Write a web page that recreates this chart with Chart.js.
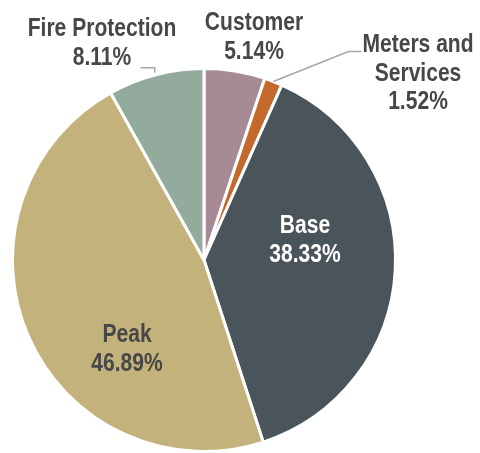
<!DOCTYPE html>
<html>
<head>
<meta charset="utf-8">
<script src="https://cdn.jsdelivr.net/npm/chart.js@4.4.1/dist/chart.umd.min.js"></script>
<style>
  html, body { margin: 0; padding: 0; background: #fff; overflow: hidden; }
  #wrap { width: 480px; height: 453px; position: relative; }
</style>
</head>
<body>
<div id="wrap"><canvas id="pie"></canvas></div>
<script>
// data
const categories = ['Customer', 'Meters and Services', 'Base', 'Peak', 'Fire Protection'];
const shares = [5.14, 1.52, 38.33, 46.89, 8.11];
const sliceColors = ['#a68b96', '#c4692c', '#4a545b', '#c3b27b', '#93ab9c'];

// label text lines per slice (name lines; the value is added below)
const labelLines = [
    ['Customer'],
    ['Meters and', 'Services'],
    ['Base'],
    ['Peak'],
    ['Fire Protection']
];

// label placement: first baseline relative to pie centre, text colour,
// leader points relative to the slice's outer edge at its mid angle
const labelSpots = [
    { dx: 50, dy: -230, color: '#474747', leader: null },
    { dx: 214, dy: -208, color: '#474747', leader: [[0, 0], [75, -30], [88, -30]] },
    { dx: 101, dy: -27, color: '#ffffff', leader: null },
    { dx: -77, dy: 82, color: '#474747', leader: null },
    { dx: -102, dy: -224, color: '#474747', leader: [[-1, -2], [-1, -7], [-15, -7]] }
];

const FONT = 'bold 26px "Liberation Sans", Arial, sans-serif';
const SQUEEZE = 0.81;
const LINE_H = 28.5;

const pieLabels = {
    id: 'pieLabels',
    afterDatasetsDraw(chart) {
        const ctx = chart.ctx;
        const arcs = chart.getDatasetMeta(0).data;
        ctx.save();
        arcs.forEach((arc, i) => {
            const spot = labelSpots[i];
            const cx = arc.x, cy = arc.y;
            if (spot.leader) {
                const mid = (arc.startAngle + arc.endAngle) / 2;
                const sx = cx + Math.cos(mid) * arc.outerRadius;
                const sy = cy + Math.sin(mid) * arc.outerRadius;
                ctx.beginPath();
                spot.leader.forEach((p, k) => {
                    if (k === 0) ctx.moveTo(sx + p[0], sy + p[1]);
                    else ctx.lineTo(sx + p[0], sy + p[1]);
                });
                ctx.strokeStyle = '#a6a6a6';
                ctx.lineWidth = 1.5;
                ctx.stroke();
            }
            const lines = labelLines[i].concat([shares[i].toFixed(2) + '%']);
            ctx.font = FONT;
            ctx.fillStyle = spot.color;
            ctx.textAlign = 'center';
            ctx.textBaseline = 'alphabetic';
            lines.forEach((t, k) => {
                ctx.save();
                ctx.translate(cx + spot.dx, cy + spot.dy + k * LINE_H);
                ctx.scale(SQUEEZE, 1);
                ctx.fillText(t, 0, 0);
                ctx.restore();
            });
        });
        ctx.restore();
    }
};

new Chart(document.getElementById('pie'), {
    type: 'pie',
    data: {
        labels: categories,
        datasets: [{
            data: shares,
            backgroundColor: sliceColors,
            borderColor: '#ffffff',
            borderWidth: 3
        }]
    },
    options: {
        responsive: true,
        maintainAspectRatio: false,
        animation: false,
        layout: { padding: { left: 10, right: 82, top: 67, bottom: 0 } },
        plugins: {
            legend: { display: false },
            tooltip: { enabled: false }
        }
    },
    plugins: [pieLabels]
});
</script>
</body>
</html>
